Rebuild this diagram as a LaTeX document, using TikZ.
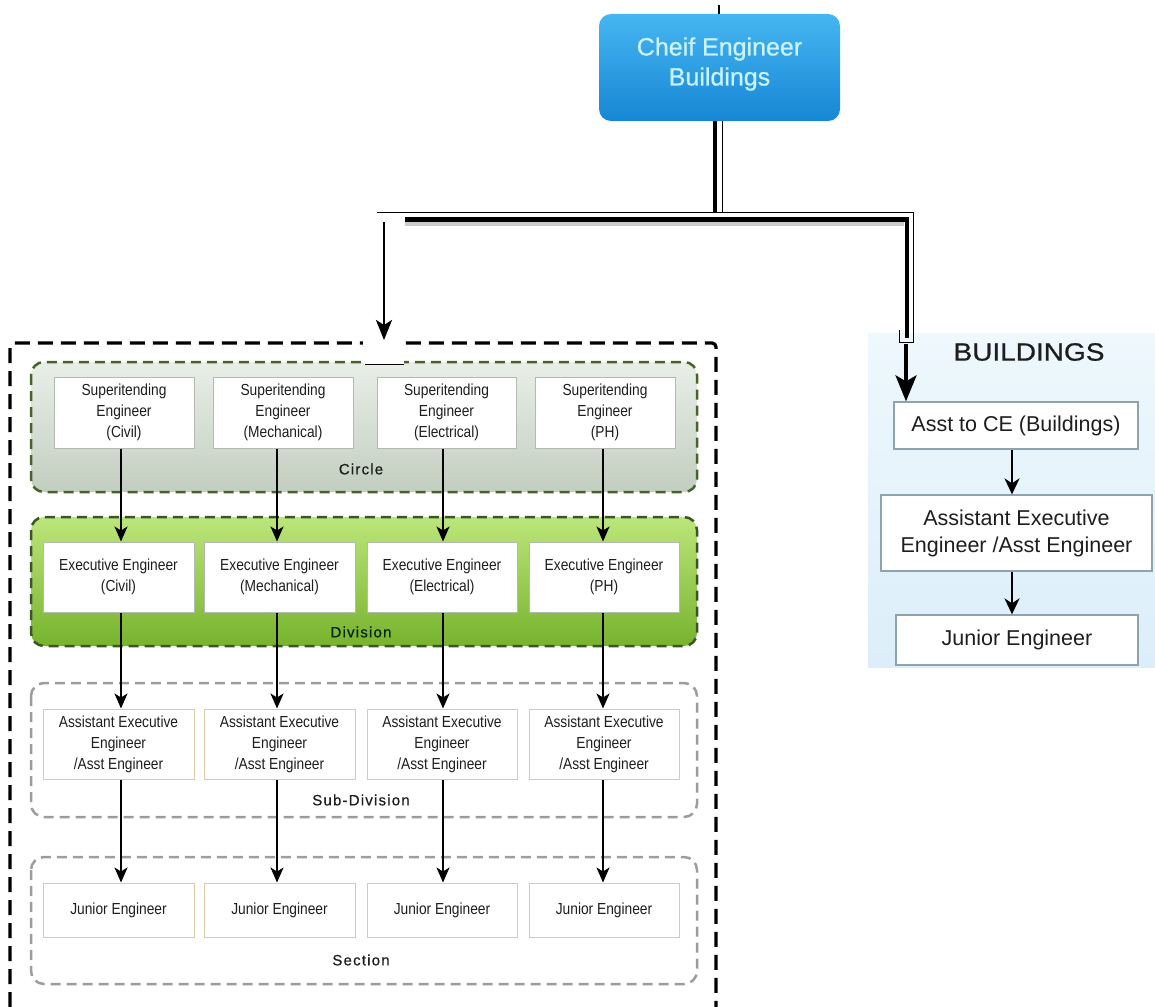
\documentclass[tikz,border=0pt]{standalone}
\usepackage{fontspec}
\setmainfont{Liberation Sans}
\newfontfamily\narrowfont[FakeStretch=0.86]{Liberation Sans}
\newfontfamily\spacedfont[LetterSpace=8,FakeBold=0.6]{Liberation Sans}
\newfontfamily\titlefont[FakeBold=0.8]{Liberation Sans}
\usetikzlibrary{arrows.meta}

\definecolor{ceTop}{HTML}{46B6F1}
\definecolor{ceBot}{HTML}{1786D5}
\definecolor{ceText}{HTML}{C8F3FF}
\definecolor{circTop}{HTML}{E9EFE7}
\definecolor{circBot}{HTML}{C2CEC0}
\definecolor{divTop}{HTML}{BCE67A}
\definecolor{divBot}{HTML}{77B32E}
\definecolor{darkGreen}{HTML}{46642A}
\definecolor{greyDash}{HTML}{9C9C9C}
\definecolor{seLine}{HTML}{B3BBB1}
\definecolor{tanLine}{HTML}{DCCAA5}
\definecolor{panelTop}{HTML}{EEF8FD}
\definecolor{panelBot}{HTML}{DCEEF9}
\definecolor{panelLine}{HTML}{8FA3AE}
\definecolor{textDark}{HTML}{1E1E1E}

\begin{document}
\begin{tikzpicture}[x=1pt,y=-1pt,
  smallbox/.style={draw=seLine, line width=1, fill=white, inner sep=0pt, align=center,
    text=textDark, font=\narrowfont\fontsize{16}{21}\selectfont},
  tanbox/.style={smallbox, draw=tanLine},
  panelbox/.style={draw=panelLine, line width=1.3, fill=white, inner sep=0pt, align=center,
    text=textDark, font=\fontsize{21.5}{27}\selectfont},
  grouplabel/.style={font=\spacedfont\fontsize{15}{18}\selectfont, text=textDark},
  groupframe/.style={line width=2.5, dash pattern=on 10pt off 6pt, rounded corners=13pt},
  arr/.style={line width=1.8, -{Stealth[length=15pt,width=13pt,inset=4pt]}},
  panelarr/.style={line width=2.4, -{Stealth[length=16pt,width=15pt,inset=5pt]}},
  thickline/.style={line width=4.5},
  thinline/.style={line width=1}]

\useasboundingbox (0,0) rectangle (1155,1006);

% ---------- outer dashed frame ----------
\draw[line width=3.2, dash pattern=on 15pt off 8pt, rounded corners=4pt]
  (10,1030) -- (10,343) -- (716,343) -- (716,1030);

% ---------- level groups ----------
\shade[top color=circTop, bottom color=circBot, rounded corners=13pt] (31,362) rectangle (697,492);
\draw[groupframe, draw=darkGreen] (31,362) rectangle (697,492);
\node[grouplabel] (lblCircle) at (361,469) {Circle};

\shade[top color=divTop, bottom color=divBot, rounded corners=13pt] (31,517) rectangle (697,646);
\draw[groupframe, draw=darkGreen!85!black] (31,517) rectangle (697,646);
\node[grouplabel, text=black!85!green] (lblDivision) at (361,632) {Division};

\draw[groupframe, draw=greyDash] (31,683) rectangle (697,817);
\node[grouplabel] (lblSub) at (361,800) {Sub-Division};

\draw[groupframe, draw=greyDash] (31,857) rectangle (697,984);
\node[grouplabel] (lblSection) at (361,960) {Section};

% white patch where the left drop enters the frame
\fill[white] (363,328) rectangle (404,364);
\draw[thinline] (365,364.5) -- (404,364.5);

% ---------- superintending engineers ----------
\node[smallbox, minimum width=140, minimum height=71] (se1) at (124,412.5) {Superitending\\Engineer\\(Civil)};
\node[smallbox, minimum width=140, minimum height=71] (se2) at (283,412.5) {Superitending\\Engineer\\(Mechanical)};
\node[smallbox, minimum width=139, minimum height=71] (se3) at (446.5,412.5) {Superitending\\Engineer\\(Electrical)};
\node[smallbox, minimum width=140, minimum height=71] (se4) at (605,412.5) {Superitending\\Engineer\\(PH)};

% ---------- executive engineers ----------
\node[smallbox, minimum width=151, minimum height=70] (ee1) at (118.5,577) {Executive Engineer\\(Civil)};
\node[smallbox, minimum width=151, minimum height=70] (ee2) at (279.5,577) {Executive Engineer\\(Mechanical)};
\node[smallbox, minimum width=150, minimum height=70] (ee3) at (442,577) {Executive Engineer\\(Electrical)};
\node[smallbox, minimum width=150, minimum height=70] (ee4) at (604,577) {Executive Engineer\\(PH)};

% ---------- assistant executive engineers ----------
\node[tanbox, minimum width=151, minimum height=70] (ae1) at (118.5,744) {Assistant Executive\\Engineer\\/Asst Engineer};
\node[tanbox, minimum width=151, minimum height=70] (ae2) at (279.5,744) {Assistant Executive\\Engineer\\/Asst Engineer};
\node[tanbox, minimum width=150, minimum height=70] (ae3) at (442,744) {Assistant Executive\\Engineer\\/Asst Engineer};
\node[tanbox, minimum width=150, minimum height=70] (ae4) at (604,744) {Assistant Executive\\Engineer\\/Asst Engineer};

% ---------- junior engineers ----------
\node[tanbox, minimum width=151, minimum height=54] (je1) at (118.5,910) {Junior Engineer};
\node[tanbox, minimum width=151, minimum height=54] (je2) at (279.5,910) {Junior Engineer};
\node[tanbox, minimum width=150, minimum height=54] (je3) at (442,910) {Junior Engineer};
\node[tanbox, minimum width=150, minimum height=54] (je4) at (604,910) {Junior Engineer};

% column lines of the chains
\coordinate (c1) at (121,0);
\coordinate (c2) at (277,0);
\coordinate (c3) at (443,0);
\coordinate (c4) at (603,0);
\foreach \i in {1,2,3,4}{
  \draw[arr] (se\i.south -| c\i) -- (ee\i.north -| c\i);
  \draw[arr] (ee\i.south -| c\i) -- (ae\i.north -| c\i);
  \draw[arr] (ae\i.south -| c\i) -- (je\i.north -| c\i);
}

% ---------- buildings panel ----------
\shade[top color=panelTop, bottom color=panelBot] (868,333) rectangle (1155,667);
\node[font=\titlefont\fontsize{25}{30}\selectfont, text=textDark, xscale=1.12] (bldTitle) at (1029,352) {BUILDINGS};
\node[panelbox, minimum width=244, minimum height=47] (b1) at (1016,425.5) {Asst to CE (Buildings)};
\node[panelbox, minimum width=271, minimum height=76] (b2) at (1016.5,533) {Assistant Executive\\Engineer /Asst Engineer};
\node[panelbox, minimum width=242, minimum height=50] (b3) at (1017,640) {Junior Engineer};
\coordinate (pc) at (1012,0);
\draw[panelarr] (b1.south -| pc) -- (b2.north -| pc);
\draw[panelarr] (b2.south -| pc) -- (b3.north -| pc);

% ---------- chief engineer ----------
\draw[line width=1.5] (719,5) -- (719,14);
\shade[top color=ceTop, bottom color=ceBot, rounded corners=12pt] (599,14) rectangle (840,121);
\node[font=\titlefont\fontsize{25}{30}\selectfont, text=ceText, align=center] (ce) at (719.5,64) {Cheif Engineer\\Buildings};
\coordinate (ceBase) at (715,121);

% ---------- branching connector ----------
\coordinate (jMid) at (715,212);
\coordinate (jLeft) at (405,219.5);
\coordinate (jRight) at (907,219.5);
\coordinate (rEnd) at (907,338);
% soft shadow under the main bar
\draw[line width=4, gray!40] (405,223.5) -- (904,223.5);
\draw[thickline] (ceBase) -- (jMid);
\draw[thinline] (722,121) -- (722,212);
\draw[thinline] (377,212) -- (913,212);
\draw[line width=5] (jLeft) -- (jRight);
\draw[thickline] (907,217) -- (rEnd);
\draw[thinline] (913,212) -- (913,342) -- (899,342) -- (899,330);

% drops into the two branches
\coordinate (lTop) at (384,222);
\coordinate (lTip) at (384,340);
\draw[line width=2.8, -{Stealth[length=20pt,width=16pt,inset=5pt]}] (lTop) -- (lTip);
\coordinate (rTop) at (906,344);
\draw[line width=3.5, -{Stealth[length=26pt,width=21pt,inset=6pt]}] (rTop) -- (b1.north -| rTop);

\end{tikzpicture}
\end{document}
